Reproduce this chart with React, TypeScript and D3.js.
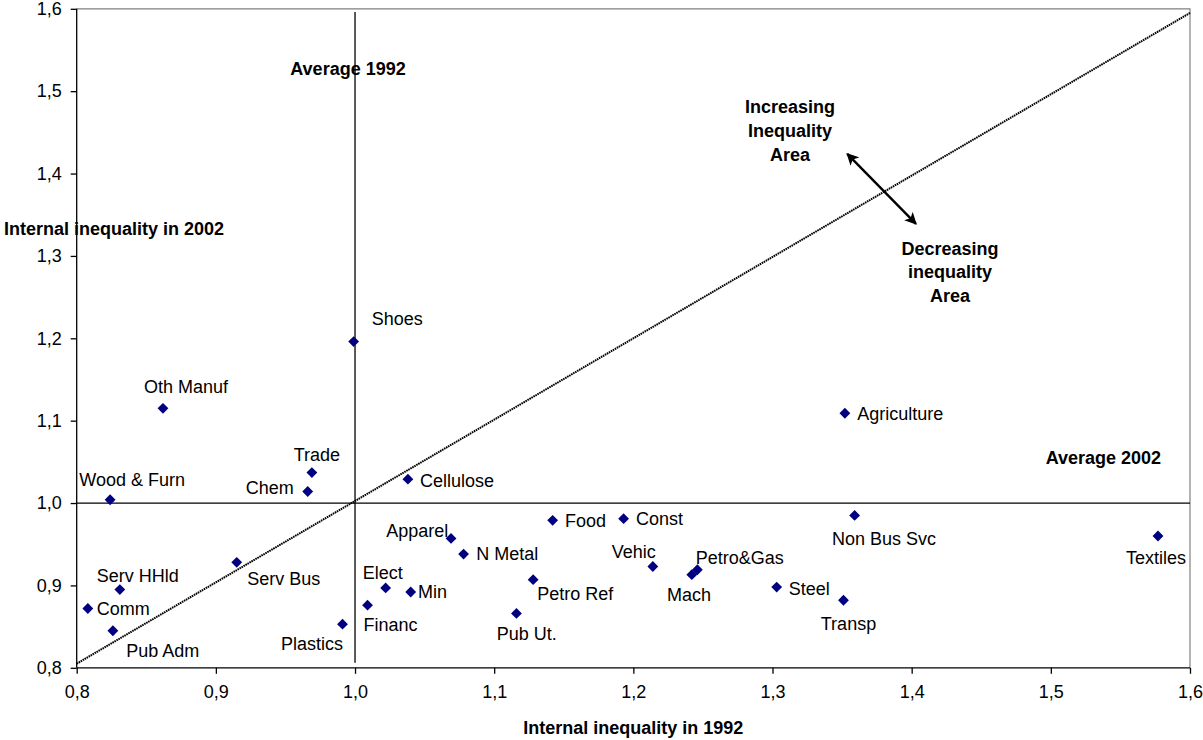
import React, { useEffect, useRef } from 'react';
import * as d3 from 'd3';

// sectors, internal inequality 1992 (x) vs 2002 (y)
const sectors = ['Shoes', 'Oth Manuf', 'Trade', 'Chem', 'Wood & Furn', 'Cellulose', 'Serv Bus', 'Serv HHld', 'Comm', 'Pub Adm',
    'Plastics', 'Financ', 'Elect', 'Min', 'Apparel', 'N Metal', 'Petro Ref', 'Pub Ut.', 'Food', 'Const',
    'Vehic', 'Petro&Gas', 'Mach', 'Steel', 'Transp', 'Non Bus Svc', 'Agriculture', 'Textiles'];
const ineq1992 = [0.999, 0.862, 0.969, 0.966, 0.824, 1.038, 0.915, 0.831, 0.808, 0.826,
    0.991, 1.009, 1.022, 1.040, 1.069, 1.078, 1.128, 1.116, 1.142, 1.193,
    1.214, 1.246, 1.242, 1.303, 1.351, 1.359, 1.352, 1.577];
const ineq2002 = [1.196, 1.115, 1.037, 1.014, 1.004, 1.029, 0.928, 0.895, 0.872, 0.845,
    0.853, 0.876, 0.897, 0.892, 0.957, 0.938, 0.907, 0.866, 0.979, 0.981,
    0.923, 0.919, 0.913, 0.898, 0.882, 0.985, 1.109, 0.960];
const xTicks = [0.8, 0.9, 1.0, 1.1, 1.2, 1.3, 1.4, 1.5, 1.6];
const yTicks = [0.8, 0.9, 1.0, 1.1, 1.2, 1.3, 1.4, 1.5, 1.6];
const diagonal = [[0.8, 0.805], [1.6, 1.595]];

// label placement (pixels from marker)
const labelPos: [number, number, string][] = [
    [18, -17, 'start'], [23, -15.5, 'middle'], [5, -12, 'middle'], [-14, 2, 'end'], [22, -14, 'middle'],
    [12, 8, 'start'], [10.6, 22.7, 'start'], [18, -7.3, 'middle'], [9, 6.5, 'start'], [13.3, 26, 'start'],
    [0.6, 25.5, 'end'], [-4, 26.3, 'start'], [-3, -9.2, 'middle'], [7.3, 6.3, 'start'], [-2.7, -1.3, 'end'],
    [12.7, 6.3, 'start'], [4, 20.7, 'start'], [10.4, 26.7, 'middle'], [12.3, 6.3, 'start'], [12.4, 6.7, 'start'],
    [-19, -8, 'middle'], [-1.7, -6, 'start'], [-2.8, 26, 'middle'], [12, 7.8, 'start'], [5, 29.8, 'middle'],
    [29.3, 30, 'middle'], [12.3, 6.7, 'start'], [-2, 28.3, 'middle'],
];

const FONT = '"Liberation Sans", Arial, sans-serif';

export default function App() {
    const ref = useRef<SVGSVGElement | null>(null);
    useEffect(() => {
        const svg = d3.select(ref.current);
        svg.selectAll('*').remove();
        const width = 1203, height = 740;
        const left = 76.7, right = 1190, top = 8.8, bottom = 667.8;
        const x = d3.scaleLinear().domain([0.8, 1.6]).range([left, right]);
        const y = d3.scaleLinear().domain([0.8, 1.6]).range([bottom, top]);
        const fmt = (v: number) => d3.format('.1f')(v).replace('.', ',');

        svg.attr('viewBox', `0 0 ${width} ${height}`).attr('width', width).attr('height', height)
            .style('font-family', FONT);
        svg.append('rect').attr('width', width).attr('height', height).attr('fill', '#fff');

        // plot frame (top/right grey)
        svg.append('path').attr('d', `M${left},${top}H${right}V${bottom}`)
            .attr('fill', 'none').attr('stroke', '#808080').attr('stroke-width', 1.2);

        const xAxis = svg.append('g').attr('transform', `translate(0,${bottom})`)
            .call(d3.axisBottom(x).tickValues(xTicks).tickFormat(d => fmt(+d)).tickSize(6).tickPadding(11));
        const yAxis = svg.append('g').attr('transform', `translate(${left},0)`)
            .call(d3.axisLeft(y).tickValues(yTicks).tickFormat(d => fmt(+d)).tickSize(6).tickPadding(9));
        [xAxis, yAxis].forEach(g => {
            g.selectAll('path,line').attr('stroke', '#000').attr('stroke-width', 1.3);
            g.selectAll('text').attr('font-size', 18).attr('font-family', FONT).attr('fill', '#000');
            g.select('.domain').attr('d', null);
        });
        svg.append('line').attr('x1', left).attr('x2', right).attr('y1', bottom).attr('y2', bottom)
            .attr('stroke', '#000').attr('stroke-width', 1.3);
        svg.append('line').attr('x1', left).attr('x2', left).attr('y1', top).attr('y2', bottom)
            .attr('stroke', '#000').attr('stroke-width', 1.3);

        // average lines
        svg.append('line').attr('x1', x(1.0)).attr('x2', x(1.0)).attr('y1', y(1.596)).attr('y2', y(0.806))
            .attr('stroke', '#000').attr('stroke-width', 1.3);
        svg.append('line').attr('x1', left).attr('x2', right).attr('y1', y(1.0)).attr('y2', y(1.0))
            .attr('stroke', '#000').attr('stroke-width', 1.3);

        // diagonal
        svg.append('path').attr('d', d3.line().x(d => x(d[0])).y(d => y(d[1]))(diagonal as [number, number][]))
            .attr('fill', 'none').attr('stroke', '#000').attr('stroke-width', 2).attr('stroke-dasharray', '1.6,0.7');

        // points
        const data = sectors.map((s, i) => ({ s, x: ineq1992[i], y: ineq2002[i], p: labelPos[i] }));
        svg.append('g').selectAll('path').data(data).join('path')
            .attr('d', 'M0,-5.4L5.4,0L0,5.4L-5.4,0Z')
            .attr('transform', d => `translate(${x(d.x)},${y(d.y)})`)
            .attr('fill', '#000080');
        svg.append('g').selectAll('text').data(data).join('text')
            .attr('x', d => x(d.x) + d.p[0]).attr('y', d => y(d.y) + d.p[1])
            .attr('text-anchor', d => d.p[2]).attr('font-size', 18).attr('fill', '#000')
            .text(d => d.s);

        // axis titles
        svg.append('text').attr('x', (left + right) / 2).attr('y', 734).attr('text-anchor', 'middle')
            .attr('font-size', 18).attr('font-weight', 'bold').text('Internal inequality in 1992');
        svg.append('text').attr('x', 4).attr('y', 235).attr('font-size', 18).attr('font-weight', 'bold')
            .text('Internal inequality in 2002');

        // annotations
        const bold = (tx: number, ty: number, t: string, anchor = 'middle') =>
            svg.append('text').attr('x', tx).attr('y', ty).attr('text-anchor', anchor)
                .attr('font-size', 18).attr('font-weight', 'bold').attr('fill', '#000').text(t);
        bold(348, 74.5, 'Average 1992');
        bold(1045.7, 463.5, 'Average 2002', 'start');
        bold(790, 113, 'Increasing');
        bold(790, 136.5, 'Inequality');
        bold(790, 161, 'Area');
        bold(950, 254.5, 'Decreasing');
        bold(950, 278, 'inequality');
        bold(950, 302, 'Area');

        const defs = svg.append('defs');
        defs.append('marker').attr('id', 'ah').attr('viewBox', '0 0 10 10').attr('refX', 9).attr('refY', 5)
            .attr('markerWidth', 5).attr('markerHeight', 5).attr('orient', 'auto-start-reverse')
            .append('path').attr('d', 'M0,0L10,5L0,10L2.5,5Z').attr('fill', '#000');
        svg.append('line')
            .attr('x1', x(1.3537)).attr('y1', y(1.4239)).attr('x2', x(1.4031)).attr('y2', y(1.339))
            .attr('stroke', '#000').attr('stroke-width', 2.4)
            .attr('marker-start', 'url(#ah)').attr('marker-end', 'url(#ah)');
    }, []);
    return <svg ref={ref} style={{ position: 'absolute', left: 0, top: 0, display: 'block' }} />;
}
